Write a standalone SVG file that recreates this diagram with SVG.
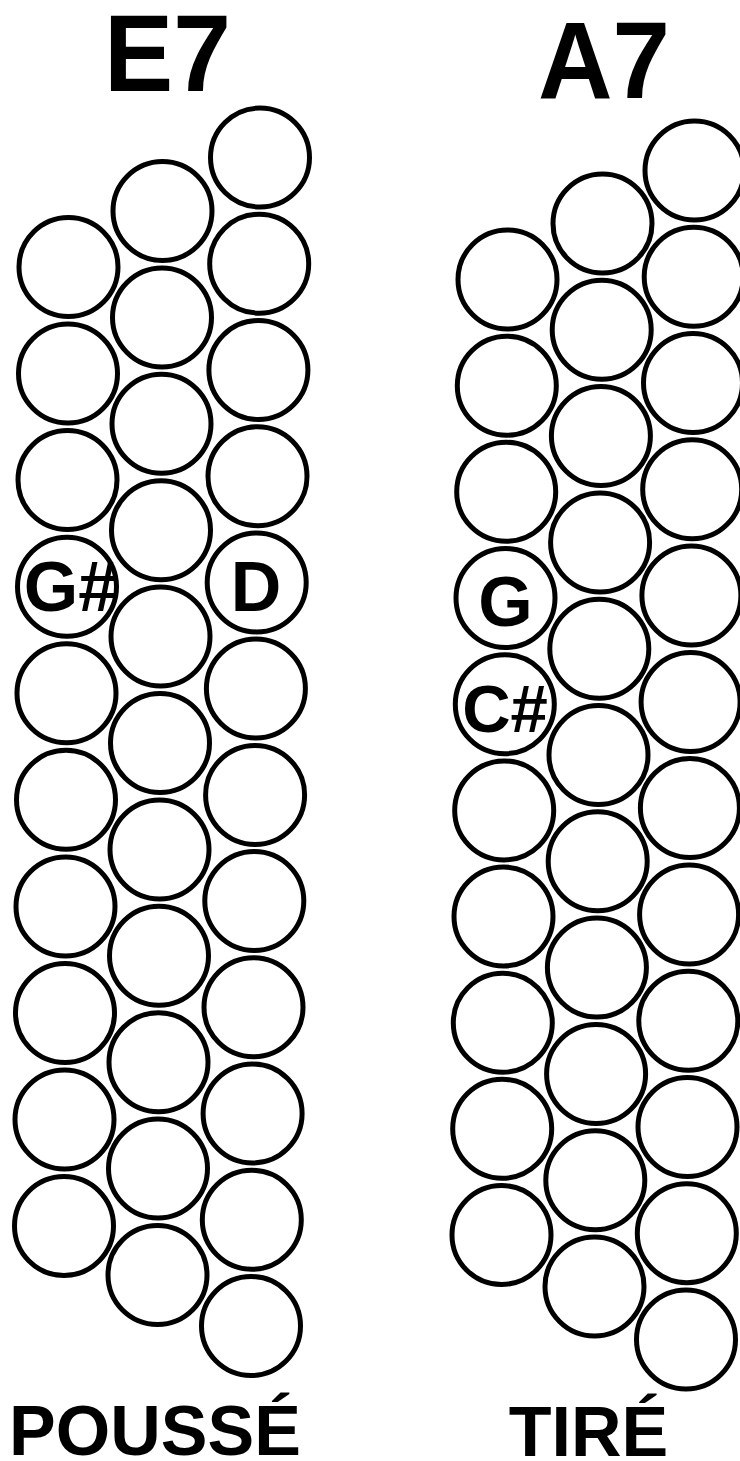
<svg xmlns="http://www.w3.org/2000/svg" width="740" height="1461" viewBox="0 0 740 1461">
<style>
.b{fill:#fff;stroke:#000;stroke-width:5}
.t{font-family:"Liberation Sans",Arial,Helvetica,sans-serif;font-weight:bold;fill:#000;text-anchor:middle}
.title{font-size:109px}
.note{font-size:70px}
.foot{font-size:70px}
</style>
<rect width="740" height="1461" fill="#fff"/>
<g id="connectors"/>
<g id="left-block">
<g id="L-a0"><circle class="b" cx="68.5" cy="267" r="49.5"/></g>
<g id="L-a1"><circle class="b" cx="68" cy="373.6" r="49.5"/></g>
<g id="L-a2"><circle class="b" cx="67.5" cy="480.1" r="49.5"/></g>
<g id="L-a3"><circle class="b" cx="67" cy="586.7" r="49.5"/><text class="t note" x="70.5" y="611">G#</text></g>
<g id="L-a4"><circle class="b" cx="66.5" cy="693.2" r="49.5"/></g>
<g id="L-a5"><circle class="b" cx="66" cy="799.8" r="49.5"/></g>
<g id="L-a6"><circle class="b" cx="65.5" cy="906.4" r="49.5"/></g>
<g id="L-a7"><circle class="b" cx="65" cy="1012.9" r="49.5"/></g>
<g id="L-a8"><circle class="b" cx="64.5" cy="1119.5" r="49.5"/></g>
<g id="L-a9"><circle class="b" cx="64" cy="1226" r="49.5"/></g>

<g id="L-b0"><circle class="b" cx="162.5" cy="211" r="49.5"/></g>
<g id="L-b1"><circle class="b" cx="162" cy="317.4" r="49.5"/></g>
<g id="L-b2"><circle class="b" cx="161.5" cy="423.8" r="49.5"/></g>
<g id="L-b3"><circle class="b" cx="161" cy="530.2" r="49.5"/></g>
<g id="L-b4"><circle class="b" cx="160.5" cy="636.6" r="49.5"/></g>
<g id="L-b5"><circle class="b" cx="160" cy="743" r="49.5"/></g>
<g id="L-b6"><circle class="b" cx="159.5" cy="849.4" r="49.5"/></g>
<g id="L-b7"><circle class="b" cx="159" cy="955.8" r="49.5"/></g>
<g id="L-b8"><circle class="b" cx="158.5" cy="1062.2" r="49.5"/></g>
<g id="L-b9"><circle class="b" cx="158" cy="1168.6" r="49.5"/></g>
<g id="L-b10"><circle class="b" cx="157.5" cy="1275" r="49.5"/></g>

<g id="L-c0"><circle class="b" cx="260" cy="157.5" r="49.5"/></g>
<g id="L-c1"><circle class="b" cx="259.2" cy="263.7" r="49.5"/></g>
<g id="L-c2"><circle class="b" cx="258.4" cy="370" r="49.5"/></g>
<g id="L-c3"><circle class="b" cx="257.5" cy="476.2" r="49.5"/></g>
<g id="L-c4"><circle class="b" cx="256.7" cy="582.4" r="49.5"/><text class="t note" x="256" y="611">D</text></g>
<g id="L-c5"><circle class="b" cx="255.9" cy="688.6" r="49.5"/></g>
<g id="L-c6"><circle class="b" cx="255.1" cy="794.9" r="49.5"/></g>
<g id="L-c7"><circle class="b" cx="254.3" cy="901.1" r="49.5"/></g>
<g id="L-c8"><circle class="b" cx="253.5" cy="1007.3" r="49.5"/></g>
<g id="L-c9"><circle class="b" cx="252.6" cy="1113.6" r="49.5"/></g>
<g id="L-c10"><circle class="b" cx="251.8" cy="1219.8" r="49.5"/></g>
<g id="L-c11"><circle class="b" cx="251" cy="1326" r="49.5"/></g>
</g>

<g id="right-block">
<g id="R-a0"><circle class="b" cx="507.5" cy="279.5" r="49.5"/></g>
<g id="R-a1"><circle class="b" cx="506.8" cy="385.7" r="49.5"/></g>
<g id="R-a2"><circle class="b" cx="506.2" cy="491.8" r="49.5"/></g>
<g id="R-a3"><circle class="b" cx="505.5" cy="598" r="49.5"/><text class="t note" x="505.5" y="626">G</text></g>
<g id="R-a4"><circle class="b" cx="504.8" cy="704.2" r="49.5"/><text class="t note" x="505" y="732" style="font-size:67px">C#</text></g>
<g id="R-a5"><circle class="b" cx="504.2" cy="810.4" r="49.5"/></g>
<g id="R-a6"><circle class="b" cx="503.5" cy="916.5" r="49.5"/></g>
<g id="R-a7"><circle class="b" cx="502.8" cy="1022.7" r="49.5"/></g>
<g id="R-a8"><circle class="b" cx="502.2" cy="1128.8" r="49.5"/></g>
<g id="R-a9"><circle class="b" cx="501.5" cy="1235" r="49.5"/></g>

<g id="R-b0"><circle class="b" cx="602.5" cy="223.5" r="49.5"/></g>
<g id="R-b1"><circle class="b" cx="601.7" cy="329.8" r="49.5"/></g>
<g id="R-b2"><circle class="b" cx="600.9" cy="436.1" r="49.5"/></g>
<g id="R-b3"><circle class="b" cx="600.1" cy="542.4" r="49.5"/></g>
<g id="R-b4"><circle class="b" cx="599.3" cy="648.7" r="49.5"/></g>
<g id="R-b5"><circle class="b" cx="598.5" cy="755" r="49.5"/></g>
<g id="R-b6"><circle class="b" cx="597.7" cy="861.3" r="49.5"/></g>
<g id="R-b7"><circle class="b" cx="596.9" cy="967.6" r="49.5"/></g>
<g id="R-b8"><circle class="b" cx="596.1" cy="1073.9" r="49.5"/></g>
<g id="R-b9"><circle class="b" cx="595.3" cy="1180.2" r="49.5"/></g>
<g id="R-b10"><circle class="b" cx="594.5" cy="1286.5" r="49.5"/></g>

<g id="R-c0"><circle class="b" cx="694.5" cy="170.5" r="49.5"/></g>
<g id="R-c1"><circle class="b" cx="693.7" cy="276.8" r="49.5"/></g>
<g id="R-c2"><circle class="b" cx="693" cy="383" r="49.5"/></g>
<g id="R-c3"><circle class="b" cx="692.2" cy="489.3" r="49.5"/></g>
<g id="R-c4"><circle class="b" cx="691.4" cy="595.6" r="49.5"/></g>
<g id="R-c5"><circle class="b" cx="690.6" cy="701.9" r="49.5"/></g>
<g id="R-c6"><circle class="b" cx="689.9" cy="808.1" r="49.5"/></g>
<g id="R-c7"><circle class="b" cx="689.1" cy="914.4" r="49.5"/></g>
<g id="R-c8"><circle class="b" cx="688.3" cy="1020.7" r="49.5"/></g>
<g id="R-c9"><circle class="b" cx="687.5" cy="1127" r="49.5"/></g>
<g id="R-c10"><circle class="b" cx="686.8" cy="1233.2" r="49.5"/></g>
<g id="R-c11"><circle class="b" cx="686" cy="1339.5" r="49.5"/></g>
</g>

<g id="titles">
<text class="t title" x="167.5" y="91" textLength="127" lengthAdjust="spacingAndGlyphs">E7</text>
<text class="t title" x="604" y="98" textLength="132" lengthAdjust="spacingAndGlyphs">A7</text>
<text class="t foot" x="155" y="1455">POUSSÉ</text>
<text class="t foot" x="588.5" y="1456">TIRÉ</text>
</g>
</svg>
